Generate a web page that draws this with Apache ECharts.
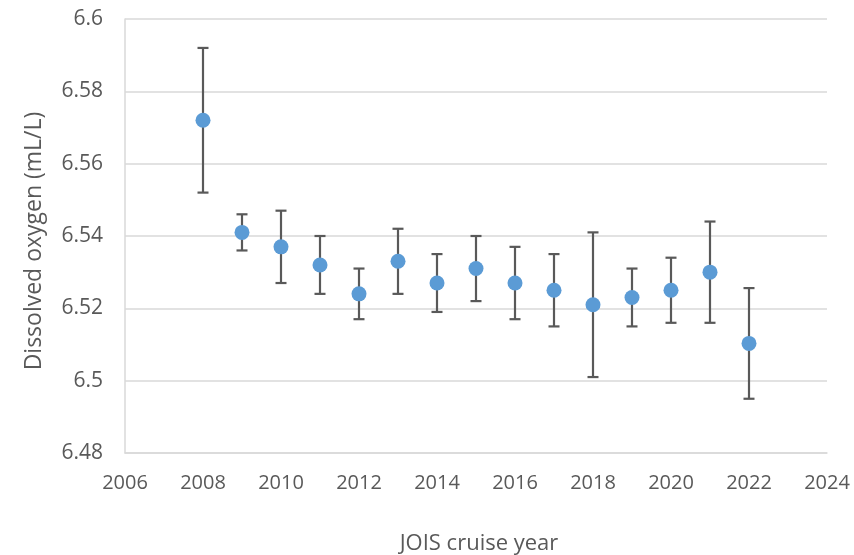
<!DOCTYPE html>
<html>
<head>
<meta charset="utf-8">
<script src="https://cdn.jsdelivr.net/npm/echarts@6/dist/echarts.min.js"></script>
<style>
  html, body { margin: 0; padding: 0; background: #fff; }
  #chart { width: 854px; height: 555px; }
</style>
</head>
<body>
<div id="chart"></div>
<script>
// Mean dissolved oxygen per cruise year, with error bar half-widths
const years = [2008, 2009, 2010, 2011, 2012, 2013, 2014, 2015, 2016, 2017, 2018, 2019, 2020, 2021, 2022];
const meanDO = [6.572, 6.541, 6.537, 6.532, 6.524, 6.533, 6.527, 6.531, 6.527, 6.525, 6.521, 6.523, 6.525, 6.530, 6.5103];
const errDO = [0.020, 0.005, 0.010, 0.008, 0.007, 0.009, 0.008, 0.009, 0.010, 0.010, 0.020, 0.008, 0.009, 0.014, 0.0153];

const FONT = 'Open Sans';
const TEXT = '#595959';

const points = years.map((y, i) => [y, meanDO[i]]);
const bars = years.map((y, i) => [y, meanDO[i] - errDO[i], meanDO[i] + errDO[i]]);

const chart = echarts.init(document.getElementById('chart'));
chart.setOption({
  animation: false,
  grid: { left: 125, right: 27, top: 19, bottom: 102, containLabel: false, outerBoundsMode: 'none' },
  xAxis: {
    type: 'value',
    min: 2006, max: 2024, interval: 2,
    name: 'JOIS cruise year',
    nameLocation: 'middle',
    nameGap: 80,
    nameTextStyle: { fontFamily: FONT, fontSize: 22, color: TEXT, padding: [0, 0, 0, 6] },
    axisLine: { show: true, lineStyle: { color: '#D9D9D9', width: 1.5 } },
    axisTick: { show: false },
    axisLabel: {
      fontFamily: FONT, fontSize: 20, color: TEXT, margin: 20,
      formatter: v => String(v)
    },
    splitLine: { show: false }
  },
  yAxis: {
    type: 'value',
    min: 6.48, max: 6.6, interval: 0.02,
    name: 'Dissolved oxygen (mL/L)',
    nameLocation: 'middle',
    nameGap: 79,
    nameTextStyle: { fontFamily: FONT, fontSize: 23, color: TEXT, padding: [0, 10, 0, 0] },
    axisLine: { show: true, lineStyle: { color: '#D9D9D9', width: 1.5 } },
    axisTick: { show: false },
    axisLabel: {
      fontFamily: FONT, fontSize: 21, color: TEXT, margin: 22,
      formatter: v => String(parseFloat(v.toFixed(3)))
    },
    splitLine: { show: true, lineStyle: { color: '#D9D9D9', width: 1.5 } }
  },
  series: [
    {
      type: 'custom',
      data: bars,
      z: 2,
      renderItem: (params, api) => {
        const x = api.value(0);
        const lo = api.coord([x, api.value(1)]);
        const hi = api.coord([x, api.value(2)]);
        const cap = 5.5;
        const style = { stroke: '#595959', lineWidth: 2.2 };
        return {
          type: 'group',
          children: [
            { type: 'line', shape: { x1: lo[0], y1: lo[1], x2: hi[0], y2: hi[1] }, style },
            { type: 'line', shape: { x1: lo[0] - cap, y1: lo[1], x2: lo[0] + cap, y2: lo[1] }, style },
            { type: 'line', shape: { x1: hi[0] - cap, y1: hi[1], x2: hi[0] + cap, y2: hi[1] }, style }
          ]
        };
      }
    },
    {
      type: 'scatter',
      data: points,
      symbol: 'circle',
      symbolSize: 15,
      z: 3,
      itemStyle: { color: '#5B9BD5', opacity: 1 }
    }
  ]
});
</script>
</body>
</html>
